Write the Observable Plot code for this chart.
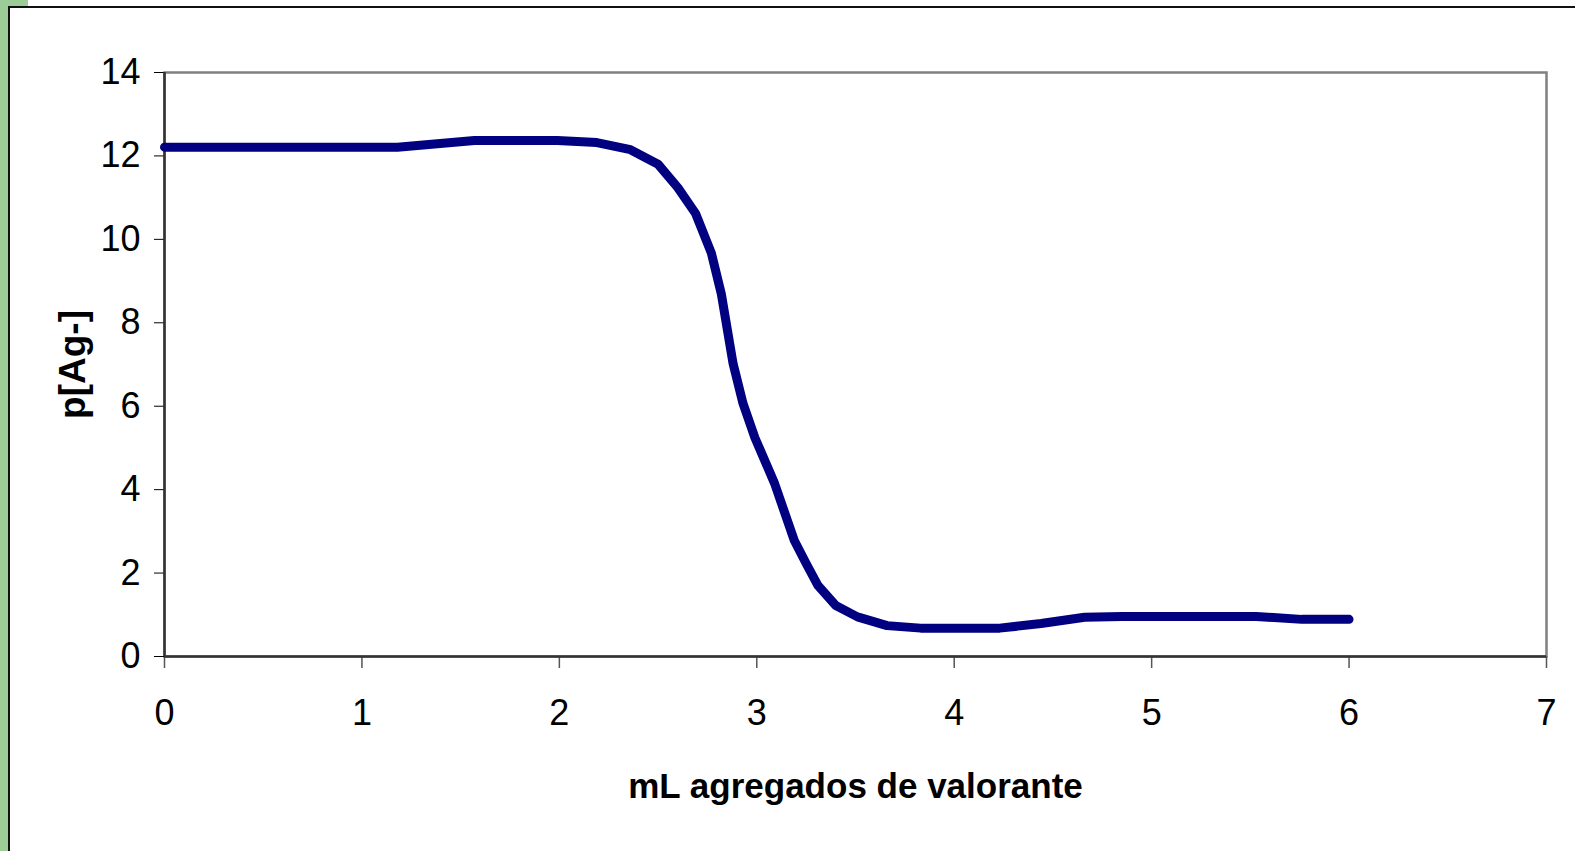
<!DOCTYPE html>
<html>
<head>
<meta charset="utf-8">
<script src="https://cdn.jsdelivr.net/npm/d3@7"></script>
<script src="https://cdn.jsdelivr.net/npm/@observablehq/plot@0.6"></script>
<style>
  html, body { margin: 0; padding: 0; background: #fff; overflow: hidden; }
  #wrap { position: relative; width: 1575px; height: 851px; background: #fff; }
  #chart { position: absolute; left: 0; top: 0; }
  .deco { position: absolute; }
</style>
</head>
<body>
<div id="wrap">
  <div id="chart"></div>
  <div class="deco" style="left:0;top:0;width:8px;height:851px;background:#9ccd97;"></div>
  <div class="deco" style="left:0;top:0;width:28px;height:7px;background:#9ccd97;"></div>
  <div class="deco" style="left:8px;top:6px;width:1567px;height:2px;background:#111;"></div>
  <div class="deco" style="left:8px;top:6px;width:2px;height:845px;background:#111;"></div>
</div>
<script>
// Data
const mlValues = [0, 1.18, 1.57, 1.99, 2.19, 2.36, 2.50, 2.60, 2.69, 2.77, 2.82, 2.88, 2.93, 2.99, 3.09, 3.19, 3.25, 3.31, 3.40, 3.51, 3.66, 3.83, 4.23, 4.44, 4.66, 4.85, 5.0, 5.53, 5.76, 6.0];
const pAgValues = [12.21, 12.21, 12.37, 12.37, 12.32, 12.15, 11.8, 11.24, 10.62, 9.67, 8.7, 7.02, 6.07, 5.25, 4.15, 2.78, 2.23, 1.7, 1.22, 0.95, 0.74, 0.68, 0.68, 0.79, 0.94, 0.96, 0.96, 0.96, 0.89, 0.89];
const xTicks = [0, 1, 2, 3, 4, 5, 6, 7];
const yTicks = [0, 2, 4, 6, 8, 10, 12, 14];
const xLabel = "mL agregados de valorante";
const yLabel = "p[Ag-]";

const data = mlValues.map((x, i) => ({x, y: pAgValues[i]}));

const chart = Plot.plot({
  width: 1575,
  height: 851,
  marginLeft: 164,
  marginRight: 29,
  marginTop: 72,
  marginBottom: 195,
  x: {domain: [0, 7], ticks: xTicks, label: null},
  y: {domain: [0, 14], ticks: yTicks, label: null},
  style: {fontFamily: "'Liberation Sans', Arial, sans-serif", fontSize: "36px", color: "#000", background: "transparent"},
  marks: [
    Plot.frame({stroke: "#808080", strokeWidth: 2.5}),
    Plot.axisX({ticks: xTicks, tickFormat: d => String(d), tickSize: 12, tickPadding: 31, stroke: "#555", strokeWidth: 1.5, fontSize: 36, fill: "#000", label: null}),
    Plot.axisY({ticks: yTicks, tickFormat: d => String(d), tickSize: 10, tickPadding: 14, stroke: "#000", strokeWidth: 1, fontSize: 36, fill: "#000", label: null}),
    Plot.ruleX([0], {stroke: "#333", strokeWidth: 2.5}),
    Plot.ruleY([0], {stroke: "#333", strokeWidth: 2.5}),
    Plot.line(data, {x: "x", y: "y", stroke: "#000080", strokeWidth: 9, strokeLinejoin: "round", strokeLinecap: "round"}),
    Plot.text([xLabel], {frameAnchor: "bottom", dy: 141, text: d => d, fontWeight: "bold", fontSize: 35, fill: "#000"}),
    Plot.text([yLabel], {frameAnchor: "left", dx: -91, rotate: -90, textAnchor: "middle", text: d => d, fontWeight: "bold", fontSize: 37, fill: "#000"})
  ]
});
document.getElementById("chart").appendChild(chart);
</script>
</body>
</html>
